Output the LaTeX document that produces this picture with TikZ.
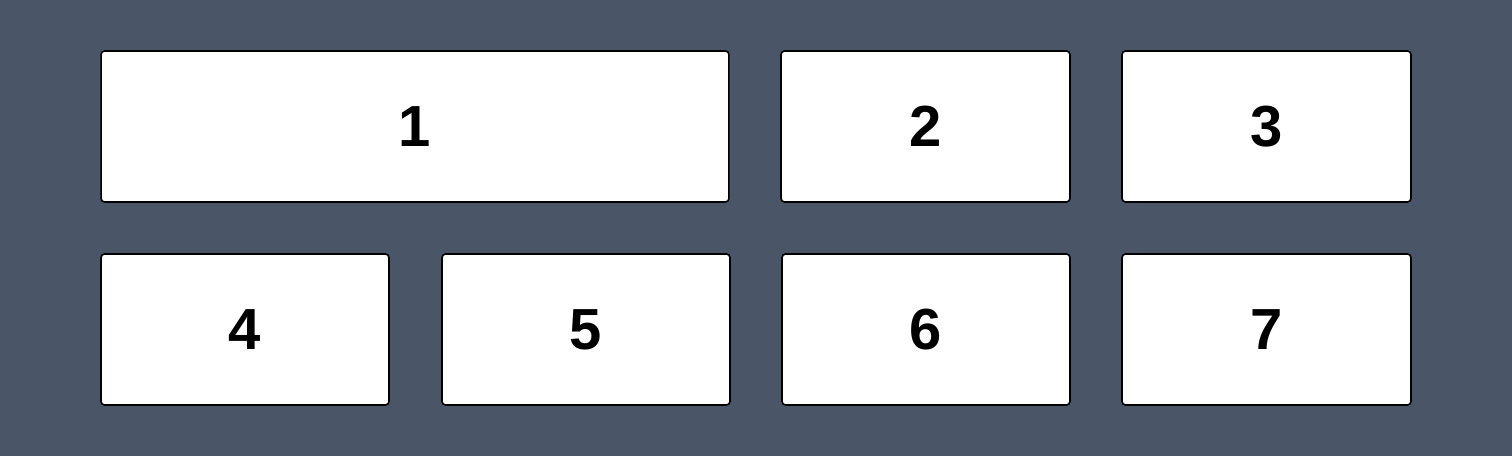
\documentclass[tikz,border=0pt]{standalone}
\usepackage{fontspec}
\setmainfont{Liberation Sans}
\definecolor{slate}{HTML}{4A5568}
\tikzset{panel/.style = {draw = black, fill = white, line width = 0.9pt, rounded corners = 2pt, minimum height = 3.02cm, font = \fontsize{33}{33}\selectfont\bfseries, inner sep = 0pt}}
\newcommand{\panel}[4]{\node[panel, minimum width = #4 cm] (#1) at (#2) {#3};}

\begin{document}
\begin{tikzpicture}[x = 0.02cm, y = -0.02cm]
\fill[slate] (0,0) rectangle (1512,456);
\useasboundingbox (0,0) rectangle (1512,456);
\panel{p1}{415,126.5}{1}{12.56}
\panel{p2}{925.5,126.5}{2}{5.78}
\panel{p3}{1266.5,126.5}{3}{5.78}
\panel{p4}{245,329.5}{4}{5.76}
\panel{p5}{586,329.5}{5}{5.76}
\panel{p6}{926,329.5}{6}{5.76}
\panel{p7}{1266.5,329.5}{7}{5.78}
\end{tikzpicture}
\end{document}
